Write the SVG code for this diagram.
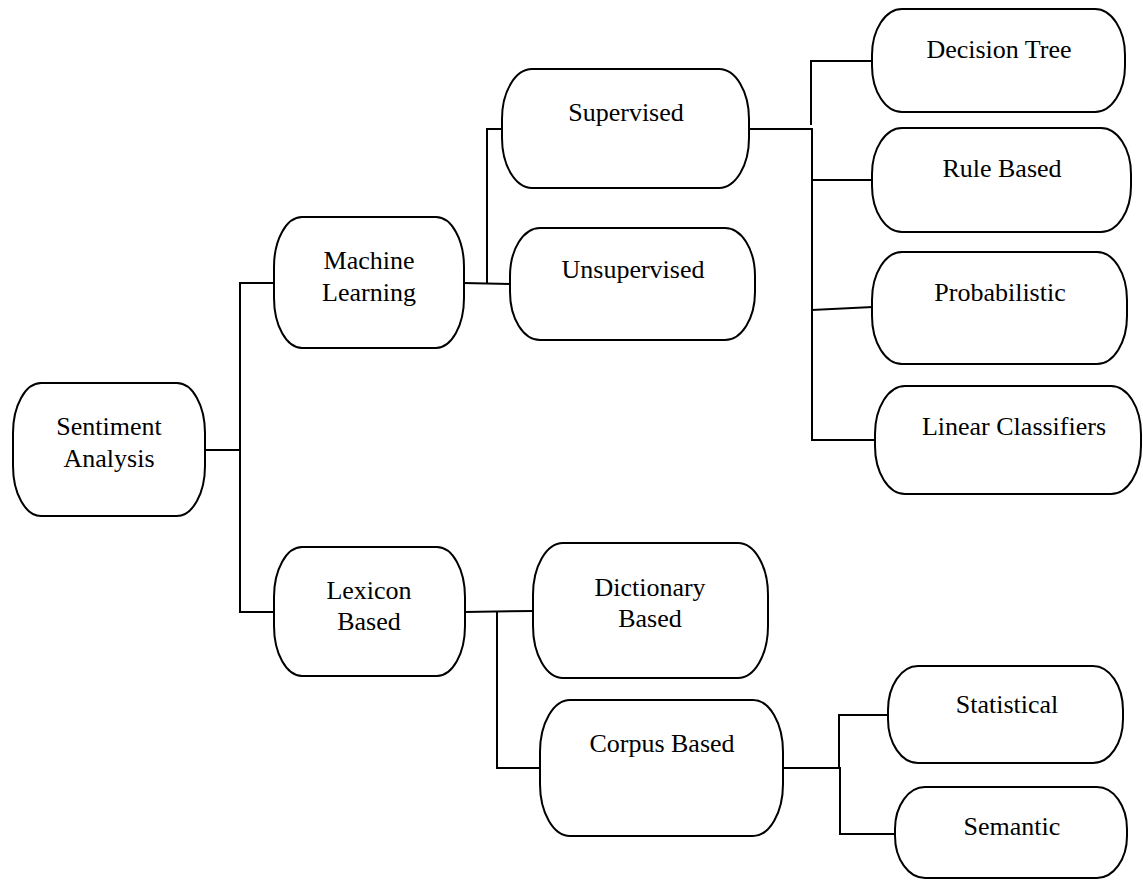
<svg xmlns="http://www.w3.org/2000/svg" width="1143" height="880" viewBox="0 0 1143 880">
<style>
.box{fill:#fff;stroke:#000;stroke-width:2}
.lbl{font-family:"Liberation Serif","Times New Roman",serif;font-size:26px;fill:#000;text-anchor:middle}
.con line{stroke:#000;stroke-width:2;stroke-linecap:square}
</style>
<rect width="1143" height="880" fill="#fff"/>
<g id="connectors" class="con">
<line x1="205" y1="450" x2="240" y2="450"/>
<line x1="240" y1="283" x2="240" y2="612"/>
<line x1="240" y1="283" x2="274" y2="283"/>
<line x1="240" y1="612" x2="274" y2="612"/>
<line x1="464" y1="283" x2="510" y2="284"/>
<line x1="487" y1="129" x2="487" y2="283"/>
<line x1="487" y1="129" x2="502" y2="129"/>
<line x1="749" y1="129" x2="812" y2="129"/>
<line x1="812" y1="129" x2="812" y2="440"/>
<line x1="811" y1="61" x2="811" y2="124"/>
<line x1="811" y1="61" x2="872" y2="61"/>
<line x1="812" y1="180" x2="872" y2="180"/>
<line x1="812" y1="310" x2="872" y2="307"/>
<line x1="812" y1="440" x2="875" y2="440"/>
<line x1="465" y1="612" x2="533" y2="611"/>
<line x1="497" y1="613" x2="497" y2="768"/>
<line x1="497" y1="768" x2="540" y2="768"/>
<line x1="783" y1="768" x2="840" y2="768"/>
<line x1="839" y1="715" x2="839" y2="768"/>
<line x1="840" y1="768" x2="840" y2="834"/>
<line x1="839" y1="715" x2="888" y2="715"/>
<line x1="840" y1="834" x2="895" y2="834"/>
</g>
<g id="sentiment-analysis"><rect class="box" x="13" y="383" width="192" height="133" rx="28" ry="50"/><text class="lbl" x="109" y="435">Sentiment</text><text class="lbl" x="109" y="467">Analysis</text></g>
<g id="machine-learning"><rect class="box" x="274" y="217" width="190" height="131" rx="28" ry="50"/><text class="lbl" x="369" y="269">Machine</text><text class="lbl" x="369" y="301">Learning</text></g>
<g id="lexicon-based"><rect class="box" x="274" y="547" width="191" height="129" rx="28" ry="50"/><text class="lbl" x="369" y="599">Lexicon</text><text class="lbl" x="369" y="630">Based</text></g>
<g id="supervised"><rect class="box" x="502" y="69" width="247" height="119" rx="30" ry="50"/><text class="lbl" x="626" y="121">Supervised</text></g>
<g id="unsupervised"><rect class="box" x="510" y="228" width="245" height="112" rx="30" ry="48"/><text class="lbl" x="633" y="278">Unsupervised</text></g>
<g id="decision-tree"><rect class="box" x="872" y="9" width="253" height="103" rx="30" ry="46"/><text class="lbl" x="999" y="58">Decision Tree</text></g>
<g id="rule-based"><rect class="box" x="872" y="128" width="259" height="104" rx="30" ry="46"/><text class="lbl" x="1002" y="177">Rule Based</text></g>
<g id="probabilistic"><rect class="box" x="872" y="252" width="255" height="112" rx="30" ry="48"/><text class="lbl" x="1000" y="301">Probabilistic</text></g>
<g id="linear-classifiers"><rect class="box" x="875" y="386" width="266" height="108" rx="30" ry="48"/><text class="lbl" x="1014" y="435">Linear Classifiers</text></g>
<g id="dictionary-based"><rect class="box" x="533" y="543" width="235" height="135" rx="30" ry="52"/><text class="lbl" x="650" y="596">Dictionary</text><text class="lbl" x="650" y="627">Based</text></g>
<g id="corpus-based"><rect class="box" x="540" y="700" width="243" height="136" rx="30" ry="52"/><text class="lbl" x="662" y="752">Corpus Based</text></g>
<g id="statistical"><rect class="box" x="888" y="666" width="235" height="97" rx="30" ry="44"/><text class="lbl" x="1007" y="713">Statistical</text></g>
<g id="semantic"><rect class="box" x="895" y="787" width="232" height="91" rx="30" ry="42"/><text class="lbl" x="1012" y="835">Semantic</text></g>
</svg>
